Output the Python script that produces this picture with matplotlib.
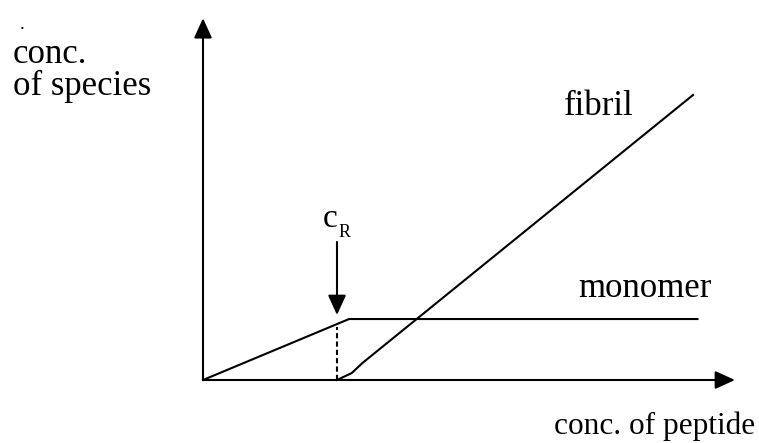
import matplotlib
matplotlib.use("Agg")
from matplotlib import pyplot

# schematic data, in arbitrary units (c_R = 1)
c_R = 1.0
monomer_x = [0.0, 1.09, 3.69]
monomer_y = [0.0, 0.455, 0.455]
fibril_x = [1.0, 1.11, 1.19, 3.657]
fibril_y = [0.0, 0.052, 0.127, 2.127]
x_axis_end = 3.97
y_axis_end = 2.70
cR_arrow = (1.03, 0.485)

pyplot.rcParams['font.family'] = ['Liberation Serif', 'DejaVu Serif']

fig = pyplot.figure(figsize=(7.59, 4.43), dpi=100)
ax = fig.add_axes([0, 0, 1, 1])
s = 134.0  # pixels per unit
ax.set_xlim(-203 / s, 556 / s)
ax.set_ylim(-63 / s, 380 / s)
ax.axis("off")

head = dict(arrowstyle="-|>,head_length=0.55,head_width=0.25", lw=1.5,
            color="black", shrinkA=0, shrinkB=0, mutation_scale=22)

# axes
ax.annotate("", xy=(x_axis_end, 0), xytext=(0, 0), arrowprops=head)
ax.annotate("", xy=(0, y_axis_end), xytext=(0, 0), arrowprops=head)

ax.plot(monomer_x, monomer_y, color="black", lw=1.5, solid_joinstyle="miter")
ax.plot(fibril_x, fibril_y, color="black", lw=1.5)

# dashed drop line at c_R
knee_y = monomer_y[1] * c_R / monomer_x[1]
ax.plot([c_R, c_R], [0, knee_y - 0.02], color="black", lw=1.5, ls=(0, (2.5, 1.5)))

# c_R marker arrow
ax.annotate("", xy=(c_R, cR_arrow[1]), xytext=(c_R, cR_arrow[0]), arrowprops=head)
ax.text(c_R + 0.005, 1.142, "c", fontsize=24, ha="right", va="baseline")
ax.text(c_R + 0.01, 1.07, "R", fontsize=13, ha="left", va="baseline")

ax.text(2.69, 1.978, "fibril", fontsize=25, va="baseline")
ax.text(2.80, 0.62, "monomer", fontsize=25, va="baseline")
ax.text(2.62, -0.405, "conc. of peptide", fontsize=22.5, va="baseline")
ax.text(-1.42, 2.127, "conc.\nof species", fontsize=25, va="baseline",
        linespacing=0.95, multialignment="left")
ax.text(-1.37, 2.62, ".", fontsize=14, va="baseline")

pyplot.savefig("out.png", dpi=100)
pyplot.close()
